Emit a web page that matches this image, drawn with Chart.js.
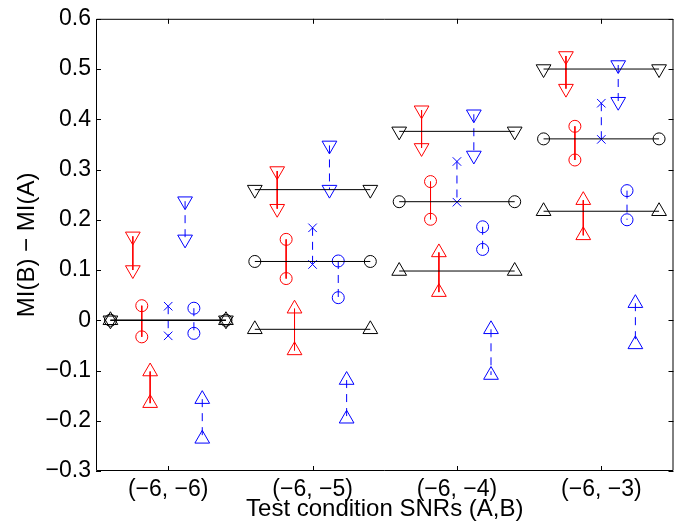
<!DOCTYPE html>
<html lang="en">
<head>
    <meta charset="UTF-8">
    <title>MI difference by test condition</title>
    <script src="https://cdn.jsdelivr.net/npm/chart.js"></script>
    <style>
        html, body {
            margin: 0;
            padding: 0;
            background: #fff;
        }
        #wrap {
            width: 683px;
            height: 527px;
        }
    </style>
</head>
<body>
    <div id="wrap"><canvas id="miChart"></canvas></div>

    <script>
        // Test conditions (SNR of A, SNR of B)
        const categories = ['(\u22126, \u22126)', '(\u22126, \u22125)', '(\u22126, \u22124)', '(\u22126, \u22123)'];

        // Black reference levels, one per condition
        const refDown = [0, 0.260, 0.376, 0.500];
        const refCircle = [0, 0.117, 0.236, 0.361];
        const refUp = [0, -0.018, 0.098, 0.217];

        // Red pairs [top, bottom] per condition
        const redDown = [[0.167, 0.100], [0.297, 0.222], [0.418, 0.343], [0.526, 0.461]];
        const redCircle = [[0.029, -0.033], [0.161, 0.083], [0.276, 0.201], [0.386, 0.319]];
        const redUp = [[-0.102, -0.165], [0.023, -0.060], [0.135, 0.056], [0.239, 0.169]];

        // Blue pairs [top, bottom] per condition
        const blueCross = [[0.028, -0.031], [0.184, 0.111], [0.316, 0.235], [0.432, 0.360]];
        const blueDown = [[0.237, 0.161], [0.348, 0.260], [0.410, 0.328], [0.508, 0.435]];
        const blueCircle = [[0.024, -0.026], [0.118, 0.045], [0.186, 0.141], [0.258, 0.200]];
        const blueUp = [[-0.157, -0.236], [-0.119, -0.196], [-0.018, -0.109], [0.034, -0.048]];

        const yTicks = [-0.3, -0.2, -0.1, 0, 0.1, 0.2, 0.3, 0.4, 0.5, 0.6];

        // horizontal placement inside each condition slot
        const REF_HALF = 0.4;
        const OFFSET = {
            redDown: -0.245, redCircle: -0.183, redUp: -0.125,
            blueCross: 0, blueDown: 0.117, blueCircle: 0.178, blueUp: 0.236
        };

        const RED = '#ff0000';
        const BLUE = '#0000ff';
        const BLACK = '#000000';
        const FONT = '"Liberation Sans", Arial, sans-serif';

        const markers = {
            down: { pointStyle: 'triangle', pointRotation: 180, pointRadius: 8.5 },
            up: { pointStyle: 'triangle', pointRotation: 0, pointRadius: 8.5 },
            circle: { pointStyle: 'circle', pointRotation: 0, pointRadius: 6 },
            cross: { pointStyle: 'crossRot', pointRotation: 0, pointRadius: 6 }
        };

        function makeSet(points, color, marker, dashed) {
            const m = markers[marker];
            return {
                data: points,
                showLine: true,
                borderColor: color,
                borderWidth: 1,
                borderDash: dashed ? [8, 6] : [],
                pointStyle: m.pointStyle,
                pointRotation: m.pointRotation,
                pointRadius: m.pointRadius,
                pointHoverRadius: m.pointRadius,
                pointBorderColor: color,
                pointBackgroundColor: 'rgba(0,0,0,0)',
                pointBorderWidth: 1
            };
        }

        function refSets(levels, marker) {
            return levels.map((v, i) => makeSet(
                [{ x: i + 1 - REF_HALF, y: v }, { x: i + 1 + REF_HALF, y: v }],
                BLACK, marker, false));
        }

        function pairSets(pairs, offset, color, marker, dashed) {
            return pairs.map((p, i) => makeSet(
                [{ x: i + 1 + offset, y: p[0] }, { x: i + 1 + offset, y: p[1] }],
                color, marker, dashed));
        }

        const datasets = [
            ...refSets(refDown, 'down'),
            ...refSets(refCircle, 'circle'),
            ...refSets(refUp, 'up'),
            ...pairSets(redDown, OFFSET.redDown, RED, 'down', false),
            ...pairSets(redCircle, OFFSET.redCircle, RED, 'circle', false),
            ...pairSets(redUp, OFFSET.redUp, RED, 'up', false),
            ...pairSets(blueCross, OFFSET.blueCross, BLUE, 'cross', true),
            ...pairSets(blueDown, OFFSET.blueDown, BLUE, 'down', true),
            ...pairSets(blueCircle, OFFSET.blueCircle, BLUE, 'circle', true),
            ...pairSets(blueUp, OFFSET.blueUp, BLUE, 'up', true)
        ];

        // axes box with inward tick marks on all four sides
        const boxTicks = {
            id: 'boxTicks',
            afterDraw(chart) {
                const ctx = chart.ctx;
                const { left, right, top, bottom } = chart.chartArea;
                const len = 5;
                ctx.save();
                ctx.strokeStyle = BLACK;
                ctx.lineWidth = 1;
                ctx.beginPath();
                ctx.rect(left + 0.5, top + 0.5, right - left - 1, bottom - top - 1);
                chart.scales.y.ticks.forEach(t => {
                    const py = Math.round(chart.scales.y.getPixelForValue(t.value)) + 0.5;
                    ctx.moveTo(left, py); ctx.lineTo(left + len, py);
                    ctx.moveTo(right, py); ctx.lineTo(right - len, py);
                });
                chart.scales.x.ticks.forEach(t => {
                    const px = Math.round(chart.scales.x.getPixelForValue(t.value)) + 0.5;
                    ctx.moveTo(px, bottom); ctx.lineTo(px, bottom - len);
                    ctx.moveTo(px, top); ctx.lineTo(px, top + len);
                });
                ctx.stroke();
                ctx.restore();
            }
        };

        new Chart(document.getElementById('miChart'), {
            type: 'scatter',
            data: { datasets: datasets },
            options: {
                responsive: true,
                maintainAspectRatio: false,
                animation: false,
                layout: { padding: { top: 14, right: 8, left: 0, bottom: 0 } },
                plugins: {
                    legend: { display: false },
                    tooltip: { enabled: false }
                },
                scales: {
                    x: {
                        type: 'linear',
                        min: 0.5,
                        max: 4.5,
                        afterBuildTicks: s => { s.ticks = categories.map((c, i) => ({ value: i + 1 })); },
                        afterFit: s => { s.height = 56; },
                        grid: { display: false, drawTicks: false },
                        border: { display: false },
                        ticks: {
                            padding: 5,
                            color: BLACK,
                            maxRotation: 0,
                            font: { family: FONT, size: 23 },
                            callback: v => categories[Math.round(v) - 1]
                        },
                        title: {
                            display: true,
                            text: 'Test condition SNRs (A,B)',
                            color: BLACK,
                            padding: { top: 0, bottom: 3 },
                            font: { family: FONT, size: 24 }
                        }
                    },
                    y: {
                        min: -0.3,
                        max: 0.6,
                        afterBuildTicks: s => { s.ticks = yTicks.map(v => ({ value: v })); },
                        afterFit: s => { s.width = 96; },
                        grid: { display: false, drawTicks: false },
                        border: { display: false },
                        ticks: {
                            padding: 5,
                            color: BLACK,
                            font: { family: FONT, size: 23 },
                            callback: v => String(Math.round(v * 10) / 10).replace('-', '\u2212')
                        },
                        title: {
                            display: true,
                            text: 'MI(B) \u2212 MI(A)',
                            color: BLACK,
                            padding: { top: 13, bottom: 0 },
                            font: { family: FONT, size: 24 }
                        }
                    }
                }
            },
            plugins: [boxTicks]
        });
    </script>
</body>
</html>
